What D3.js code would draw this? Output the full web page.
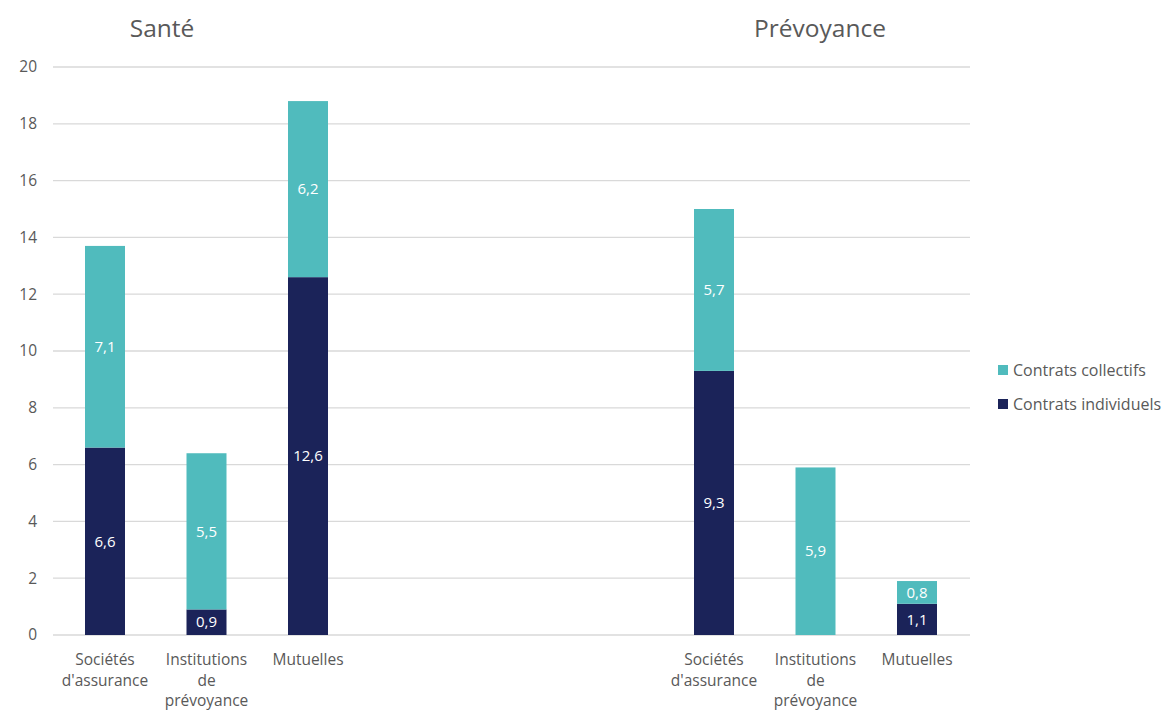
<!DOCTYPE html>
<html>
<head>
<meta charset="utf-8">
<script src="https://cdn.jsdelivr.net/npm/d3@7"></script>
<style>
  html, body { margin: 0; padding: 0; background: #fff; }
  svg { display: block; font-family: "Open Sans", Lato, sans-serif; }
</style>
</head>
<body>
<svg id="chart" width="1170" height="713"></svg>
<script>
// Data
const slots = ["s1", "s2", "s3", "g1", "g2", "g3", "p1", "p2", "p3"];
const categoryLabels = [
  ["Sociétés", "d'assurance"], ["Institutions", "de", "prévoyance"], ["Mutuelles"],
  null, null, null,
  ["Sociétés", "d'assurance"], ["Institutions", "de", "prévoyance"], ["Mutuelles"]
];
const individuels = [6.6, 0.9, 12.6, null, null, null, 9.3, 0, 1.1];
const collectifs  = [7.1, 5.5, 6.2, null, null, null, 5.7, 5.9, 0.8];
const groupTitles = ["Santé", "Prévoyance"];
const titleCenters = [162, 820];
const yTicks = [0, 2, 4, 6, 8, 10, 12, 14, 16, 18, 20];
const seriesNames = ["Contrats collectifs", "Contrats individuels"];
const colors = { coll: "#50BBBD", ind: "#1B2359" };

const svg = d3.select("#chart");
const x = d3.scaleBand().domain(slots).range([54.25, 967.75]).paddingInner(0).paddingOuter(0);
const y = d3.scaleLinear().domain([0, 20]).range([635, 67]);
const barW = 40;
const textGrey = "#595959";
const labelSize = 15.5;

// gridlines
svg.append("g").selectAll("line").data(yTicks).join("line")
  .attr("x1", 53).attr("x2", 970)
  .attr("y1", d => y(d)).attr("y2", d => y(d))
  .attr("stroke", "#d9d9d9").attr("stroke-width", 1.3);

// y axis labels
const yAxis = d3.axisLeft(y).tickValues(yTicks).tickSize(0).tickPadding(0).tickFormat(d3.format("d"));
const ya = svg.append("g").attr("transform", "translate(37,0)").call(yAxis);
ya.select(".domain").remove();
ya.selectAll("text").attr("font-size", 15.5).attr("fill", textGrey).attr("font-family", "'Open Sans', sans-serif");

// bars
const fmt = v => String(v).replace(".", ",");
slots.forEach((s, i) => {
  const ind = individuels[i], col = collectifs[i];
  if (ind === null) return;
  const cx = x(s) + x.bandwidth() / 2;
  if (ind > 0) {
    svg.append("rect").attr("x", cx - barW / 2).attr("width", barW)
      .attr("y", y(ind)).attr("height", y(0) - y(ind)).attr("fill", colors.ind);
    svg.append("text").attr("x", cx).attr("y", y(ind / 2)).attr("dy", "0.35em")
      .attr("text-anchor", "middle").attr("fill", "#fff").attr("font-size", 15).text(fmt(ind));
  }
  if (col > 0) {
    svg.append("rect").attr("x", cx - barW / 2).attr("width", barW)
      .attr("y", y(ind + col)).attr("height", y(ind) - y(ind + col)).attr("fill", colors.coll);
    svg.append("text").attr("x", cx).attr("y", y(ind + col / 2)).attr("dy", "0.35em")
      .attr("text-anchor", "middle").attr("fill", "#fff").attr("font-size", 15).text(fmt(col));
  }
});

// category labels
slots.forEach((s, i) => {
  const lines = categoryLabels[i];
  if (!lines) return;
  const cx = x(s) + x.bandwidth() / 2;
  const t = svg.append("text").attr("text-anchor", "middle").attr("fill", textGrey).attr("font-size", labelSize);
  lines.forEach((l, j) => {
    t.append("tspan").attr("x", cx).attr("y", 665 + j * 20.5).text(l);
  });
});

// group titles
groupTitles.forEach((g, i) => {
  svg.append("text").attr("x", titleCenters[i]).attr("y", 37).attr("text-anchor", "middle")
    .attr("fill", textGrey).attr("font-size", 24.5).text(g);
});

// legend
const legend = svg.append("g");
seriesNames.forEach((n, i) => {
  const ly = 370 + i * 34;
  legend.append("rect").attr("x", 998).attr("y", ly - 5).attr("width", 10).attr("height", 10)
    .attr("fill", i === 0 ? colors.coll : colors.ind);
  legend.append("text").attr("x", 1013).attr("y", ly).attr("dy", "0.35em")
    .attr("fill", textGrey).attr("font-size", 16).text(n);
});
</script>
</body>
</html>
